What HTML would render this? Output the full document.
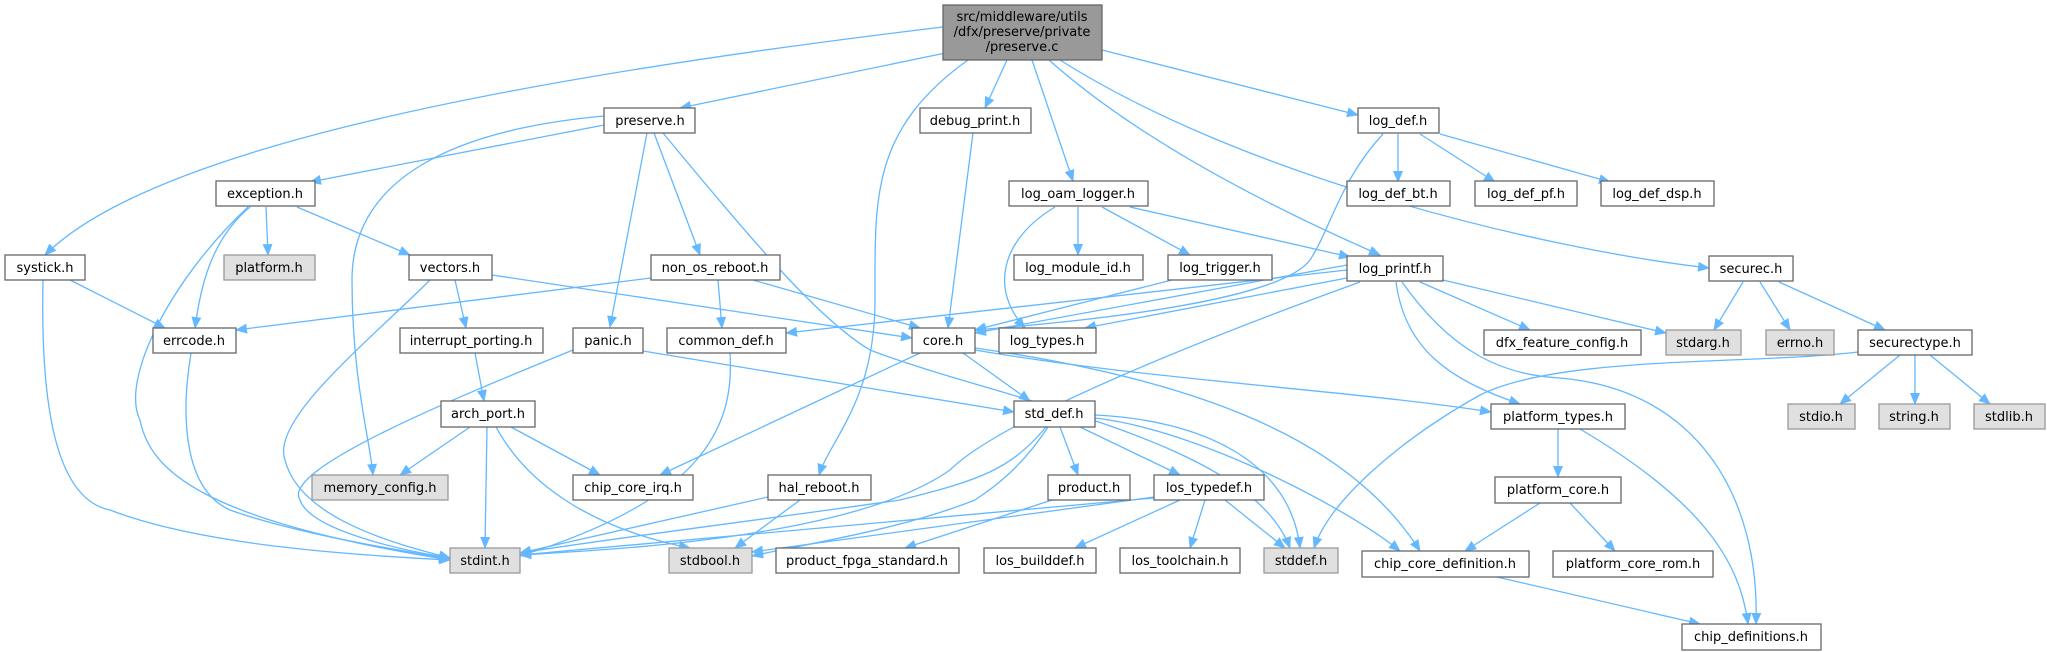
<!DOCTYPE html>
<html><head><meta charset="utf-8"><style>
html,body{margin:0;padding:0;background:#fff;}
svg{display:block;}
text{font-family:"DejaVu Sans","Liberation Sans",sans-serif;font-size:13px;fill:#000;text-anchor:middle;}
.n{fill:#fff;stroke:#666;stroke-width:1.3;}
.g{fill:#e0e0e0;stroke:#999;stroke-width:1.3;}
.e{fill:none;stroke:#63b8ff;stroke-width:1.3;}
</style></head><body>
<svg width="2047" height="652" viewBox="0 0 2047 652" xmlns="http://www.w3.org/2000/svg">
<defs><marker id="a" markerWidth="12" markerHeight="10" refX="11" refY="5" orient="auto" markerUnits="userSpaceOnUse"><path d="M0,0 L12,5 L0,10 z" fill="#63b8ff"/></marker></defs>
<g class="e" marker-end="url(#a)">
<path d="M943,27 C500,80 150,150 45,255"/>
<path d="M960,50 L680,108"/>
<path d="M968,60 C870,130 875,200 875,300 C875,400 830,440 819,475"/>
<path d="M1007,60 L985,108"/>
<path d="M1032,60 L1073,181"/>
<path d="M1049,60 C1150,150 1300,220 1380,255"/>
<path d="M1060,60 C1250,180 1550,250 1709,268"/>
<path d="M1102,50 L1358,115"/>
<path d="M604,125 L310,182"/>
<path d="M604,116 C450,130 352,180 352,280 C352,380 370,440 373,475"/>
<path d="M647,133 L610,327"/>
<path d="M654,133 L700,255"/>
<path d="M663,133 C760,250 820,320 870,350 C1000,400 1250,440 1290,548"/>
<path d="M266,207 L268,255"/>
<path d="M297,207 L410,255"/>
<path d="M250,207 C210,240 200,290 195,328"/>
<path d="M248,207 C170,280 120,380 140,420 C150,470 200,520 450,560"/>
<path d="M70,280 L165,328"/>
<path d="M43,280 C40,420 60,500 110,510 C200,545 350,555 450,560"/>
<path d="M455,280 L466,328"/>
<path d="M492,275 L912,338"/>
<path d="M430,280 C370,340 270,420 285,460 C300,520 400,545 450,558"/>
<path d="M651,278 L236,330"/>
<path d="M718,280 L722,328"/>
<path d="M753,280 L920,328"/>
<path d="M475,353 L484,401"/>
<path d="M470,427 L400,475"/>
<path d="M511,427 L600,475"/>
<path d="M487,427 L485,548"/>
<path d="M496,427 C530,490 600,530 690,548"/>
<path d="M191,353 C180,420 185,490 230,510 C300,535 400,550 450,559"/>
<path d="M573,350 C450,400 280,470 300,500 C310,530 400,550 450,558"/>
<path d="M643,351 L1014,412"/>
<path d="M730,353 C735,430 700,500 520,556"/>
<path d="M963,353 L1030,401"/>
<path d="M920,353 L660,475"/>
<path d="M975,350 C1150,380 1350,390 1491,412"/>
<path d="M975,348 C1200,380 1350,440 1420,551"/>
<path d="M973,133 L948,328"/>
<path d="M1078,207 L1078,255"/>
<path d="M1102,207 L1190,255"/>
<path d="M1130,207 L1350,257"/>
<path d="M1055,207 C1000,240 990,290 1025,328"/>
<path d="M1172,280 L975,330"/>
<path d="M1398,134 L1398,182"/>
<path d="M1420,134 L1495,182"/>
<path d="M1440,134 L1610,182"/>
<path d="M1383,134 C1340,180 1330,230 1310,260 C1280,300 1100,320 975,330"/>
<path d="M1347,265 L975,333"/>
<path d="M1347,270 L786,333"/>
<path d="M1347,278 L1085,328"/>
<path d="M1360,282 C1200,340 1000,420 950,470 C850,540 600,550 520,555"/>
<path d="M1420,282 L1530,330"/>
<path d="M1443,280 L1666,333"/>
<path d="M1396,282 C1405,350 1450,380 1520,404"/>
<path d="M1402,282 C1450,350 1500,375 1560,378 C1700,390 1760,500 1756,624"/>
<path d="M1743,282 L1714,330"/>
<path d="M1760,282 L1790,330"/>
<path d="M1779,282 L1885,330"/>
<path d="M1900,355 L1840,404"/>
<path d="M1915,355 L1915,404"/>
<path d="M1930,355 L1990,404"/>
<path d="M1858,352 C1750,365 1560,355 1480,395 C1400,440 1330,500 1314,548"/>
<path d="M1060,427 L1078,475"/>
<path d="M1080,427 L1180,475"/>
<path d="M1046,427 C1010,470 980,480 900,500 C760,520 600,540 520,553"/>
<path d="M1048,427 C1020,470 990,490 975,500 C900,530 800,545 752,556"/>
<path d="M1095,415 C1200,420 1290,460 1300,548"/>
<path d="M1095,418 C1200,430 1350,510 1400,551"/>
<path d="M1052,500 L905,548"/>
<path d="M1154,498 L520,555"/>
<path d="M1154,497 L752,552"/>
<path d="M1180,500 L1075,548"/>
<path d="M1205,500 L1190,548"/>
<path d="M1225,500 L1285,548"/>
<path d="M768,497 L520,553"/>
<path d="M800,500 L735,548"/>
<path d="M1558,429 L1558,477"/>
<path d="M1580,429 C1700,500 1740,560 1748,624"/>
<path d="M1540,503 L1465,551"/>
<path d="M1570,503 L1615,551"/>
<path d="M1497,577 L1700,624"/>
</g>
<rect x="943" y="5" width="159" height="55" fill="#999" stroke="#666" stroke-width="1.3"/>
<text x="1022" y="21">src/middleware/utils</text><text x="1022" y="36">/dfx/preserve/private</text><text x="1022" y="51">/preserve.c</text>
<g>
<rect class="n" x="604" y="108" width="91" height="25"/><text x="650" y="125">preserve.h</text>
<rect class="n" x="920" y="108" width="111" height="25"/><text x="975" y="125">debug_print.h</text>
<rect class="n" x="1358" y="108" width="81" height="25"/><text x="1398" y="125">log_def.h</text>
<rect class="n" x="216" y="181" width="99" height="25"/><text x="265" y="198">exception.h</text>
<rect class="n" x="1009" y="181" width="139" height="25"/><text x="1078" y="198">log_oam_logger.h</text>
<rect class="n" x="1347" y="181" width="103" height="25"/><text x="1398" y="198">log_def_bt.h</text>
<rect class="n" x="1475" y="181" width="102" height="25"/><text x="1526" y="198">log_def_pf.h</text>
<rect class="n" x="1601" y="181" width="113" height="25"/><text x="1657" y="198">log_def_dsp.h</text>
<rect class="n" x="5" y="255" width="80" height="25"/><text x="45" y="272">systick.h</text>
<rect class="g" x="224" y="255" width="91" height="25"/><text x="269" y="272">platform.h</text>
<rect class="n" x="409" y="255" width="83" height="25"/><text x="450" y="272">vectors.h</text>
<rect class="n" x="651" y="255" width="129" height="25"/><text x="715" y="272">non_os_reboot.h</text>
<rect class="n" x="1014" y="255" width="129" height="25"/><text x="1078" y="272">log_module_id.h</text>
<rect class="n" x="1168" y="255" width="104" height="25"/><text x="1220" y="272">log_trigger.h</text>
<rect class="n" x="1347" y="256" width="96" height="25"/><text x="1395" y="273">log_printf.h</text>
<rect class="n" x="1709" y="256" width="84" height="25"/><text x="1751" y="273">securec.h</text>
<rect class="n" x="153" y="328" width="83" height="25"/><text x="194" y="345">errcode.h</text>
<rect class="n" x="400" y="328" width="143" height="25"/><text x="471" y="345">interrupt_porting.h</text>
<rect class="n" x="573" y="328" width="70" height="25"/><text x="608" y="345">panic.h</text>
<rect class="n" x="667" y="328" width="119" height="25"/><text x="726" y="345">common_def.h</text>
<rect class="n" x="912" y="328" width="63" height="25"/><text x="943" y="345">core.h</text>
<rect class="n" x="999" y="328" width="97" height="25"/><text x="1047" y="345">log_types.h</text>
<rect class="n" x="1484" y="330" width="157" height="25"/><text x="1562" y="347">dfx_feature_config.h</text>
<rect class="g" x="1666" y="330" width="75" height="25"/><text x="1703" y="347">stdarg.h</text>
<rect class="g" x="1766" y="330" width="68" height="25"/><text x="1800" y="347">errno.h</text>
<rect class="n" x="1858" y="330" width="114" height="25"/><text x="1915" y="347">securectype.h</text>
<rect class="n" x="441" y="401" width="94" height="26"/><text x="488" y="418">arch_port.h</text>
<rect class="n" x="1014" y="401" width="81" height="26"/><text x="1054" y="418">std_def.h</text>
<rect class="n" x="1491" y="404" width="134" height="25"/><text x="1558" y="421">platform_types.h</text>
<rect class="g" x="1788" y="404" width="67" height="25"/><text x="1821" y="421">stdio.h</text>
<rect class="g" x="1879" y="404" width="71" height="25"/><text x="1914" y="421">string.h</text>
<rect class="g" x="1974" y="404" width="71" height="25"/><text x="2009" y="421">stdlib.h</text>
<rect class="g" x="312" y="475" width="136" height="25"/><text x="380" y="492">memory_config.h</text>
<rect class="n" x="573" y="475" width="120" height="25"/><text x="633" y="492">chip_core_irq.h</text>
<rect class="n" x="768" y="475" width="103" height="25"/><text x="819" y="492">hal_reboot.h</text>
<rect class="n" x="1048" y="475" width="82" height="25"/><text x="1089" y="492">product.h</text>
<rect class="n" x="1154" y="475" width="110" height="25"/><text x="1209" y="492">los_typedef.h</text>
<rect class="n" x="1495" y="477" width="126" height="26"/><text x="1558" y="494">platform_core.h</text>
<rect class="g" x="450" y="548" width="70" height="25"/><text x="485" y="565">stdint.h</text>
<rect class="g" x="669" y="548" width="83" height="25"/><text x="710" y="565">stdbool.h</text>
<rect class="n" x="776" y="548" width="183" height="25"/><text x="867" y="565">product_fpga_standard.h</text>
<rect class="n" x="984" y="548" width="112" height="25"/><text x="1040" y="565">los_builddef.h</text>
<rect class="n" x="1120" y="548" width="120" height="25"/><text x="1180" y="565">los_toolchain.h</text>
<rect class="g" x="1264" y="548" width="74" height="25"/><text x="1301" y="565">stddef.h</text>
<rect class="n" x="1362" y="551" width="167" height="26"/><text x="1445" y="568">chip_core_definition.h</text>
<rect class="n" x="1553" y="551" width="160" height="26"/><text x="1633" y="568">platform_core_rom.h</text>
<rect class="n" x="1682" y="624" width="139" height="26"/><text x="1751" y="641">chip_definitions.h</text>
</g>
</svg>
</body></html>
